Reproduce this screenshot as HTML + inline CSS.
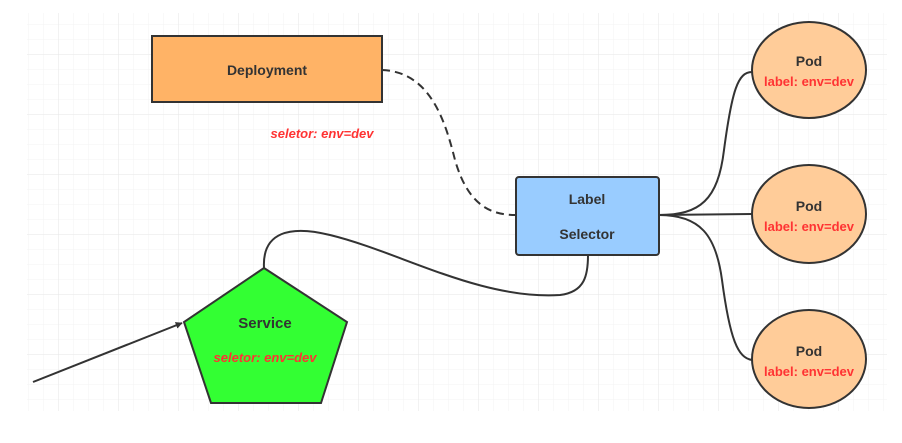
<!DOCTYPE html>
<html><head><meta charset="utf-8"><style>
html,body{margin:0;padding:0;background:#fff;}
svg{display:block;font-family:"Liberation Sans","Noto Sans CJK SC",sans-serif;}
</style></head><body>
<svg width="902" height="443" viewBox="0 0 902 443" xmlns="http://www.w3.org/2000/svg">
<defs>
<pattern id="minor" x="28" y="9" width="15" height="15" patternUnits="userSpaceOnUse">
<path d="M15 0H0V15" fill="none" stroke="#f3f3f3" stroke-width="1"/>
</pattern>
<pattern id="major" x="58" y="54" width="60" height="60" patternUnits="userSpaceOnUse">
<path d="M60 0H0V60" fill="none" stroke="#e6e6e6" stroke-width="1"/>
</pattern>
<marker id="ah" viewBox="0 0 10 10" refX="9" refY="5" markerWidth="7" markerHeight="7" orient="auto" markerUnits="userSpaceOnUse">
<path d="M0,0L10,5L0,10z" fill="#333"/>
</marker>
</defs>
<rect x="27" y="13" width="860" height="398" fill="url(#minor)"/>
<rect x="27" y="13" width="860" height="398" fill="url(#major)"/>

<g fill="none" stroke="#333" stroke-width="2">
<path d="M382,70 C430,72 445,120 455,160 C468,205 490,215 516,215" stroke-dasharray="8,5"/>
<path d="M264,268 C262,232 290,225 330,235 C400,252 480,300 560,295 C585,292 588,275 588,255"/>
<path d="M659,215 C700,215 718,200 724,150 C732,90 738,72 752,72"/>
<path d="M659,215 L752,214"/>
<path d="M659,215 C700,215 716,235 722,280 C730,340 738,358 752,360"/>
<path d="M33,382 L182,323" marker-end="url(#ah)"/>
</g>

<rect x="152" y="36" width="230" height="66" fill="#ffb366" stroke="#333" stroke-width="2"/>
<text x="267" y="75" text-anchor="middle" font-size="14" font-weight="bold" fill="#333">Deployment</text>
<text x="322" y="138" text-anchor="middle" font-size="13" font-weight="bold" font-style="italic" fill="#ff3333">seletor:  env=dev</text>

<rect x="516" y="177" width="143" height="78" rx="3" fill="#99ccff" stroke="#333" stroke-width="2"/>
<text x="587" y="204" text-anchor="middle" font-size="14" font-weight="bold" fill="#333">Label</text>
<text x="587" y="239" text-anchor="middle" font-size="14" font-weight="bold" fill="#333">Selector</text>

<polygon points="264,268 347,322 321,403 211,403 184,322" fill="#33ff33" stroke="#333" stroke-width="2"/>
<text x="265" y="328" text-anchor="middle" font-size="15" font-weight="bold" fill="#333">Service</text>
<text x="265" y="362" text-anchor="middle" font-size="13" font-weight="bold" font-style="italic" fill="#ff3333">seletor:  env=dev</text>

<g>
<ellipse cx="809" cy="70" rx="57" ry="48" fill="#ffcc99" stroke="#333" stroke-width="2"/>
<text x="809" y="66" text-anchor="middle" font-size="14" font-weight="bold" fill="#333">Pod</text>
<text x="809" y="86" text-anchor="middle" font-size="13" font-weight="bold" fill="#ff3333">label: env=dev</text>
<ellipse cx="809" cy="214" rx="57" ry="49" fill="#ffcc99" stroke="#333" stroke-width="2"/>
<text x="809" y="211" text-anchor="middle" font-size="14" font-weight="bold" fill="#333">Pod</text>
<text x="809" y="231" text-anchor="middle" font-size="13" font-weight="bold" fill="#ff3333">label: env=dev</text>
<ellipse cx="809" cy="359" rx="57" ry="49" fill="#ffcc99" stroke="#333" stroke-width="2"/>
<text x="809" y="356" text-anchor="middle" font-size="14" font-weight="bold" fill="#333">Pod</text>
<text x="809" y="376" text-anchor="middle" font-size="13" font-weight="bold" fill="#ff3333">label: env=dev</text>
</g>
</svg>
</body></html>
